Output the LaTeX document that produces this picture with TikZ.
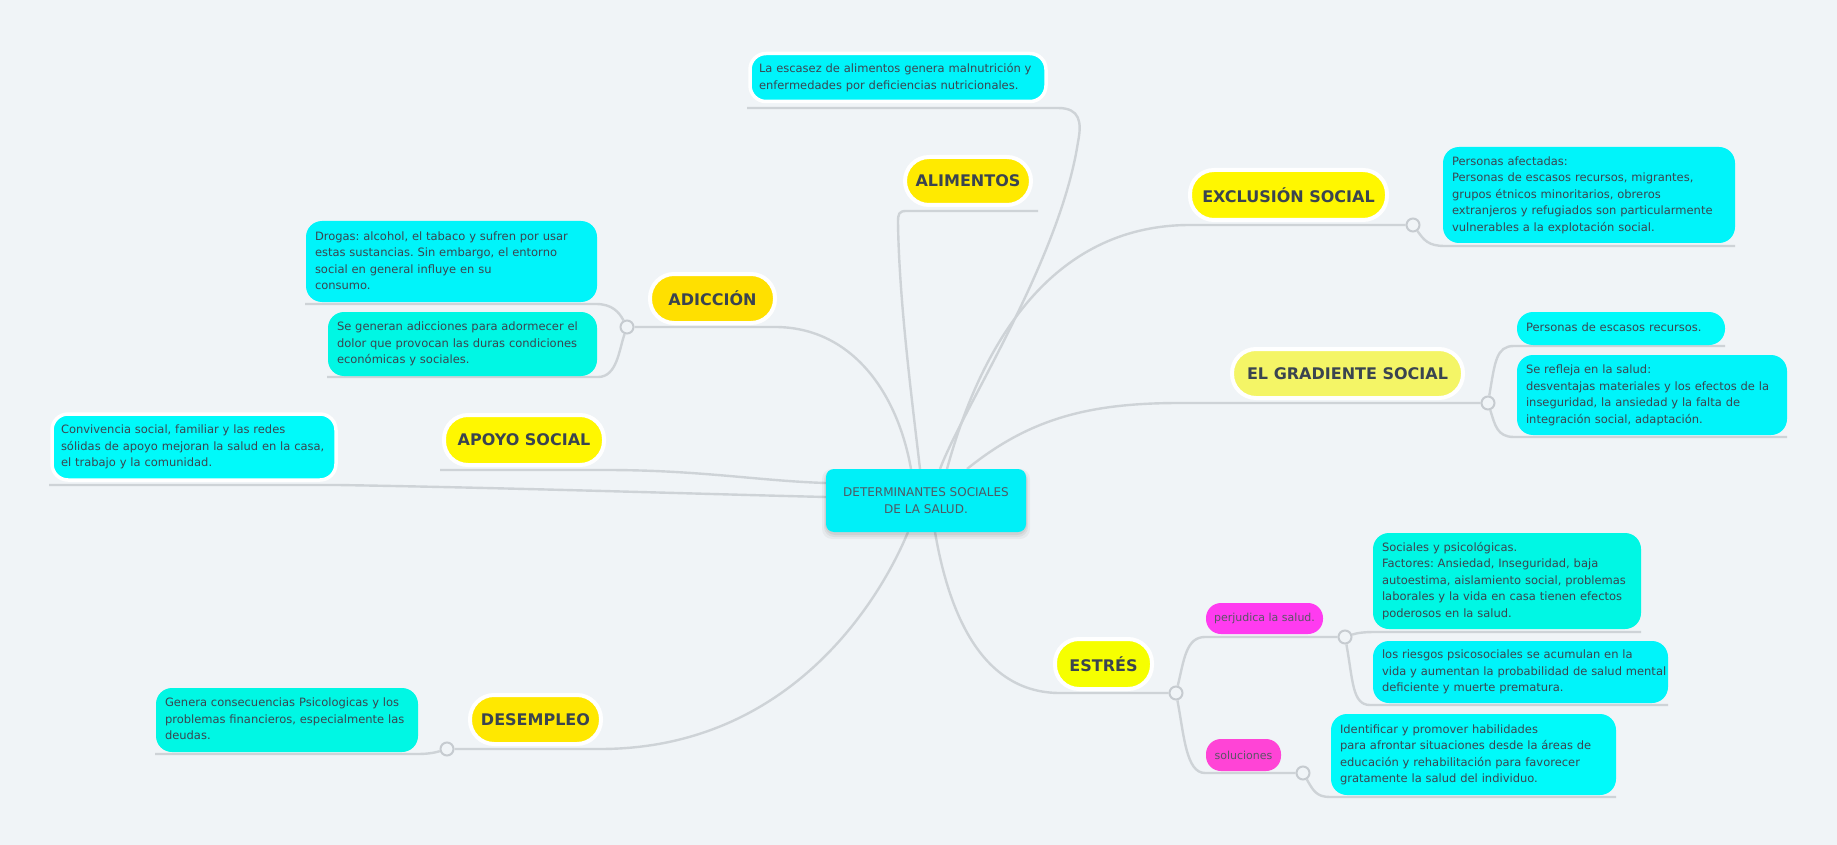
\documentclass[tikz,border=0pt]{standalone}
\usepackage{fontspec}
\setmainfont{DejaVu Sans}
\frenchspacing
\definecolor{bgcol}{HTML}{F0F4F7}
\definecolor{conncol}{HTML}{CED3D7}
\definecolor{jncol}{HTML}{C6CBD0}
\definecolor{titlecol}{HTML}{3A4450}
\definecolor{txtcol}{HTML}{3A4550}
\definecolor{centxt}{HTML}{4E5964}
\definecolor{pinktxt}{HTML}{5A5565}
\definecolor{yA}{HTML}{FFEA00}
\definecolor{yB}{HTML}{FFE000}
\definecolor{yC}{HTML}{FFF700}
\definecolor{yD}{HTML}{F4F566}
\definecolor{yE}{HTML}{F6FF00}
\definecolor{yF}{HTML}{FFE800}
\definecolor{cyA}{HTML}{00F4FA}
\definecolor{cyB}{HTML}{00F7E4}
\definecolor{cyC}{HTML}{00FAFA}
\definecolor{ccen}{HTML}{00F0F8}
\definecolor{pkA}{HTML}{FF3BF0}
\definecolor{pkB}{HTML}{FF44D6}
\newcommand{\lns}[1]{\begin{tabular}{@{}l@{}}#1\end{tabular}}
\begin{document}
\begin{tikzpicture}[x=1pt,y=-1pt,
  conn/.style={draw=conncol, line width=2.4pt},
  jn/.style={circle, draw=jncol, fill=bgcol, line width=2pt, minimum size=13pt, inner sep=0pt},
  title/.style={rectangle, rounded corners=24pt, draw=white, line width=4pt, text=titlecol,
    font=\bfseries\fontsize{16}{19}\selectfont, inner sep=0pt},
  info/.style={rectangle, rounded corners=16pt, align=left, text=txtcol,
    font=\fontsize{11.5}{16.5}\selectfont, inner xsep=9pt, inner ysep=0pt},
  infob/.style={info, draw=white, line width=3.5pt},
  pinkbox/.style={rectangle, rounded corners=15pt, text=pinktxt,
    font=\fontsize{11}{13}\selectfont, inner sep=0pt},
  shade/.style={fill=black, rounded corners=10pt}
]
\fill[bgcol] (0,0) rectangle (1837,845);
\useasboundingbox (0,0) rectangle (1837,845);

% junction circles
\node[jn] (adiJ) at (627,327) {};
\node[jn] (excJ) at (1413,225) {};
\node[jn] (graJ) at (1488,403) {};
\node[jn] (estJ) at (1176,693) {};
\node[jn] (perJ) at (1345,637) {};
\node[jn] (solJ) at (1303,773) {};
\node[jn] (desJ) at (447,749) {};

% connector end points
\coordinate (cADI) at (911,469);
\coordinate (cALI) at (920,469);
\coordinate (cESC) at (940,469);
\coordinate (cEXC) at (947,469);
\coordinate (cGRA) at (967,469);
\coordinate (cAPO) at (826,483);
\coordinate (cCON) at (826,497);
\coordinate (cDES) at (908,532);
\coordinate (cEST) at (935,532);
\coordinate (escL) at (747,108);
\coordinate (aliR) at (1038,211);
\coordinate (drgL) at (305,304);
\coordinate (genL) at (327,377);
\coordinate (apoL) at (440,470);
\coordinate (conL) at (49,485);
\coordinate (pafR) at (1735,246);
\coordinate (pesR) at (1725,346);
\coordinate (refR) at (1787,437);
\coordinate (socR) at (1641,632);
\coordinate (riesR) at (1668,705);
\coordinate (idfR) at (1616,797);
\coordinate (gnrL) at (155,754);

% connectors
\draw[conn] (escL) -- (1058,108) .. controls (1080,108) and (1082,122) .. (1078,142) .. controls (1060,260) and (962,410) .. (cESC);
\draw[conn] (aliR) -- (906,211) .. controls (899,211) and (898,214) .. (898,222) .. controls (899,300) and (912,400) .. (cALI);
\draw[conn] (adiJ) -- (775,327) .. controls (850,327) and (897,390) .. (cADI);
\draw[conn] (adiJ) .. controls (619,312) and (612,304) .. (596,304) -- (drgL);
\draw[conn] (adiJ) .. controls (619,350) and (617,377) .. (598,377) -- (genL);
\draw[conn] (apoL) -- (606,470) .. controls (700,470) and (760,481) .. (cAPO);
\draw[conn] (conL) -- (338,485) .. controls (520,488) and (700,494) .. (cCON);
\draw[conn] (cEXC) .. controls (985,330) and (1060,225) .. (1190,225) -- (excJ);
\draw[conn] (excJ) .. controls (1424,240) and (1428,246) .. (1445,246) -- (pafR);
\draw[conn] (cGRA) .. controls (1030,418) and (1090,403) .. (1180,403) -- (graJ);
\draw[conn] (graJ) .. controls (1495,362) and (1496,346) .. (1514,346) -- (pesR);
\draw[conn] (graJ) .. controls (1495,425) and (1497,437) .. (1514,437) -- (refR);
\draw[conn] (cEST) .. controls (950,620) and (985,693) .. (1060,693) -- (estJ);
\draw[conn] (estJ) .. controls (1184,660) and (1186,637) .. (1205,637) -- (perJ);
\draw[conn] (estJ) .. controls (1184,735) and (1186,773) .. (1205,773) -- (solJ);
\draw[conn] (perJ) .. controls (1357,633) and (1363,632) .. (1376,632) -- (socR);
\draw[conn] (perJ) .. controls (1353,680) and (1352,705) .. (1370,705) -- (riesR);
\draw[conn] (solJ) .. controls (1313,790) and (1316,797) .. (1330,797) -- (idfR);
\draw[conn] (cDES) .. controls (880,600) and (790,749) .. (600,749) -- (desJ);
\draw[conn] (desJ) .. controls (437,752) and (430,754) .. (418,754) -- (gnrL);

% centre with soft shadow
\fill[shade, opacity=0.04] (822,469) rectangle (1030,539);
\fill[shade, opacity=0.05] (824,470) rectangle (1028,537);
\fill[shade, opacity=0.06] (825,471) rectangle (1027,535);
\node[fill=ccen, rounded corners=8pt, minimum width=200pt, minimum height=63pt, inner sep=0pt,
  align=center, font=\fontsize{12}{17}\selectfont, text=centxt]
  (c) at (926,500.5) {DETERMINANTES SOCIALES\\DE LA SALUD.};

% titles
\node[title, fill=yA, minimum width=126pt, minimum height=48pt] (alim) at (968,181) {ALIMENTOS};
\node[title, fill=yB, minimum width=125pt, minimum height=49pt] (adic) at (712.5,298.5) {ADICCIÓN};
\node[title, fill=yC, minimum width=160pt, minimum height=50pt] (apoyo) at (524,440) {APOYO SOCIAL};
\node[title, fill=yC, minimum width=197pt, minimum height=50pt] (excl) at (1288.5,195) {EXCLUSIÓN SOCIAL};
\node[title, fill=yD, minimum width=231pt, minimum height=49pt] (grad) at (1347.5,373.5) {EL GRADIENTE SOCIAL};
\node[title, fill=yE, minimum width=97pt, minimum height=50pt] (estr) at (1103.5,664) {ESTRÉS};
\node[title, fill=yF, minimum width=131pt, minimum height=49pt] (desem) at (535.5,719.5) {DESEMPLEO};

% pink sub-topics
\node[pinkbox, fill=pkA, minimum width=117pt, minimum height=31pt] (perj) at (1264.5,618.5) {perjudica la salud.};
\node[pinkbox, fill=pkB, minimum width=75pt, minimum height=32pt] (sol) at (1243.5,755) {soluciones};

% info boxes
\node[infob, fill=cyA, text width=278pt, minimum height=48pt] (esc) at (898,77.5)
  {\lns{La escasez de alimentos genera malnutrición y\\enfermedades por deficiencias nutricionales.}};
\node[info, fill=cyA, text width=273pt, minimum height=81pt] (drog) at (451.5,261.5)
  {\lns{Drogas: alcohol, el tabaco y sufren por usar\\estas sustancias. Sin embargo, el entorno\\social en general influye en su\\consumo.}};
\node[info, fill=cyB, text width=251pt, minimum height=64pt] (segen) at (462.5,344)
  {\lns{Se generan adicciones para adormecer el\\dolor que provocan las duras condiciones\\económicas y sociales.}};
\node[infob, fill=cyC, text width=266pt, minimum height=66pt] (conv) at (194,447)
  {\lns{Convivencia social, familiar y las redes\\sólidas de apoyo mejoran la salud en la casa,\\el trabajo y la comunidad.}};
\node[info, fill=cyA, text width=274pt, minimum height=96pt] (paf) at (1589,195)
  {\lns{Personas afectadas:\\Personas de escasos recursos, migrantes,\\grupos étnicos minoritarios, obreros\\extranjeros y refugiados son particularmente\\vulnerables a la explotación social.}};
\node[info, fill=cyC, text width=190pt, minimum height=33pt] (pes) at (1621,328.5)
  {\lns{Personas de escasos recursos.}};
\node[info, fill=cyA, text width=252pt, minimum height=80pt] (refl) at (1652,395)
  {\lns{Se refleja en la salud:\\desventajas materiales y los efectos de la\\inseguridad, la ansiedad y la falta de\\integración social, adaptación.}};
\node[info, fill=cyB, text width=250pt, minimum height=96pt] (socps) at (1507,581)
  {\lns{Sociales y psicológicas.\\Factores: Ansiedad, Inseguridad, baja\\autoestima, aislamiento social, problemas\\laborales y la vida en casa tienen efectos\\poderosos en la salud.}};
\node[info, fill=cyA, text width=277pt, minimum height=62pt] (ries) at (1520.5,672)
  {\lns{los riesgos psicosociales se acumulan en la\\vida y aumentan la probabilidad de salud mental\\deficiente y muerte prematura.}};
\node[info, fill=cyC, text width=267pt, minimum height=81pt] (idf) at (1473.5,754.5)
  {\lns{Identificar y promover habilidades\\para afrontar situaciones desde la áreas de\\educación y rehabilitación para favorecer\\gratamente la salud del individuo.}};
\node[info, fill=cyB, text width=244pt, minimum height=64pt] (gnr) at (287,720)
  {\lns{Genera consecuencias Psicologicas y los\\problemas financieros, especialmente las\\deudas.}};
\end{tikzpicture}
\end{document}
